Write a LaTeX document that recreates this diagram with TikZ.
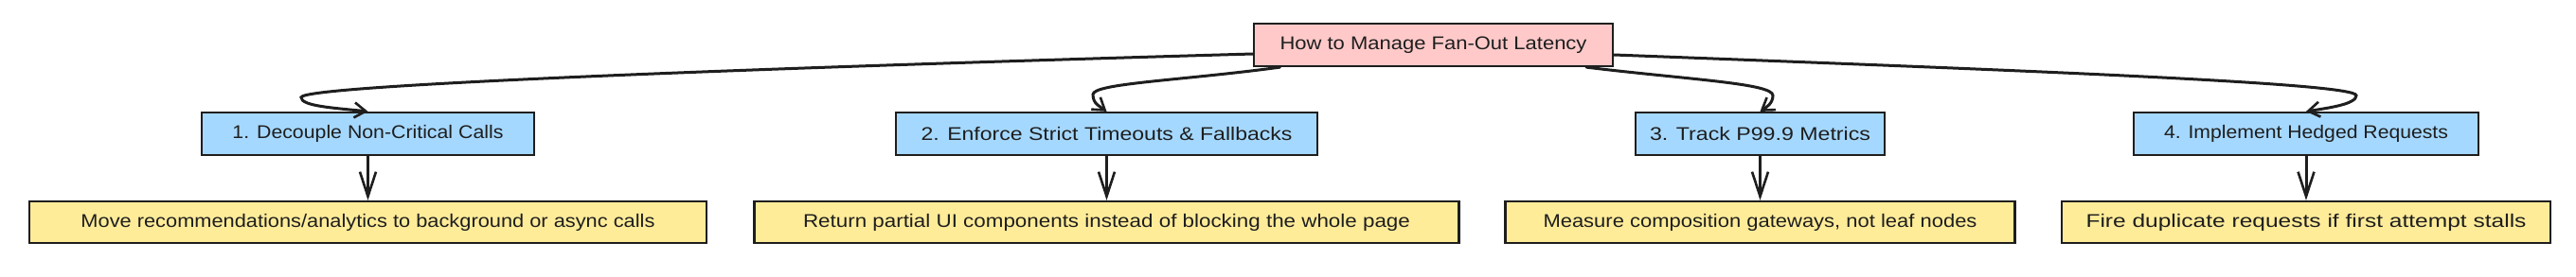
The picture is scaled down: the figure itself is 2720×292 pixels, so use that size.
\documentclass[tikz,border=0pt]{standalone}
\usepackage{fontspec}
\setmainfont{Liberation Sans}
\usepackage{graphicx}
\usetikzlibrary{arrows.meta,calc}
\definecolor{ink}{HTML}{1E1E1E}
\definecolor{rootfill}{HTML}{FFC9C9}
\definecolor{stepfill}{HTML}{A5D8FF}
\definecolor{leaffill}{HTML}{FFEC99}
\newcommand{\fitw}[2]{\resizebox{#1pt}{\height}{#2}}
\tikzset{
  box/.style={draw=ink, line width=2.2pt, inner sep=0pt, minimum height=45pt, text=ink,
    font=\fontsize{19.5}{22}\selectfont},
  rootbox/.style={box, fill=rootfill},
  stepbox/.style={box, fill=stepfill},
  leafbox/.style={box, fill=leaffill, minimum height=44pt},
  curvedge/.style={draw=ink, line width=3pt, line cap=round,
    -{Straight Barb[length=12pt,width=16pt,line width=2.6pt]}},
  downedge/.style={draw=ink, line width=3pt, line cap=round,
    -{Straight Barb[length=26pt,width=17pt,line width=2.6pt]}}
}
\begin{document}
\begin{tikzpicture}[x=1pt,y=-1pt]
\useasboundingbox (0,0) rectangle (2720,292);
\node[rootbox, minimum width=379pt] (root) at (1513.5,47.5) {\fitw{324}{How to Manage Fan-Out Latency}};
\node[stepbox, minimum width=351pt] (b1) at (388.5,141.5) {\fitw{286}{1. Decouple Non-Critical Calls}};
\node[stepbox, minimum width=445pt] (b2) at (1168.5,141.5) {\fitw{392}{2. Enforce Strict Timeouts \& Fallbacks}};
\node[stepbox, minimum width=263pt] (b3) at (1858.5,141.5) {\fitw{233}{3. Track P99.9 Metrics}};
\node[stepbox, minimum width=364pt] (b4) at (2435,141.5) {\fitw{300}{4. Implement Hedged Requests}};
\node[leafbox, minimum width=715pt] (l1) at (388.5,235) {\fitw{606}{Move recommendations/analytics to background or async calls}};
\node[leafbox, minimum width=744pt] (l2) at (1168.5,235) {\fitw{641}{Return partial UI components instead of blocking the whole page}};
\node[leafbox, minimum width=538pt] (l3) at (1858.5,235) {\fitw{458}{Measure composition gateways, not leaf nodes}};
\node[leafbox, minimum width=516pt] (l4) at (2435,235) {\fitw{465}{Fire duplicate requests if first attempt stalls}};
% curved fan-out connectors
\draw[curvedge] ($(root.west)+(0,9.5)$) .. controls (800,72) and (318,90) .. (318,103)
  .. controls (318,112) and (350,114) .. (b1.north);
\draw[curvedge] ($(root.south)+(-162,0)$) .. controls (1250,85) and (1154,88) .. (1154,100)
  .. controls (1154,110) and (1162,113) .. (b2.north);
\draw[curvedge] ($(root.south)+(161.5,0)$) .. controls (1780,84) and (1872,88) .. (1872,101)
  .. controls (1872,110) and (1864,114) .. (b3.north);
\draw[curvedge] ($(root.east)+(0,10.5)$) .. controls (2150,75) and (2488,88) .. (2488,101)
  .. controls (2488,110) and (2460,114) .. (b4.north);
% vertical connectors
\draw[downedge] (b1.south) -- (l1.north);
\draw[downedge] (b2.south) -- (l2.north);
\draw[downedge] (b3.south) -- (l3.north);
\draw[downedge] (b4.south) -- (l4.north);
\end{tikzpicture}
\end{document}
